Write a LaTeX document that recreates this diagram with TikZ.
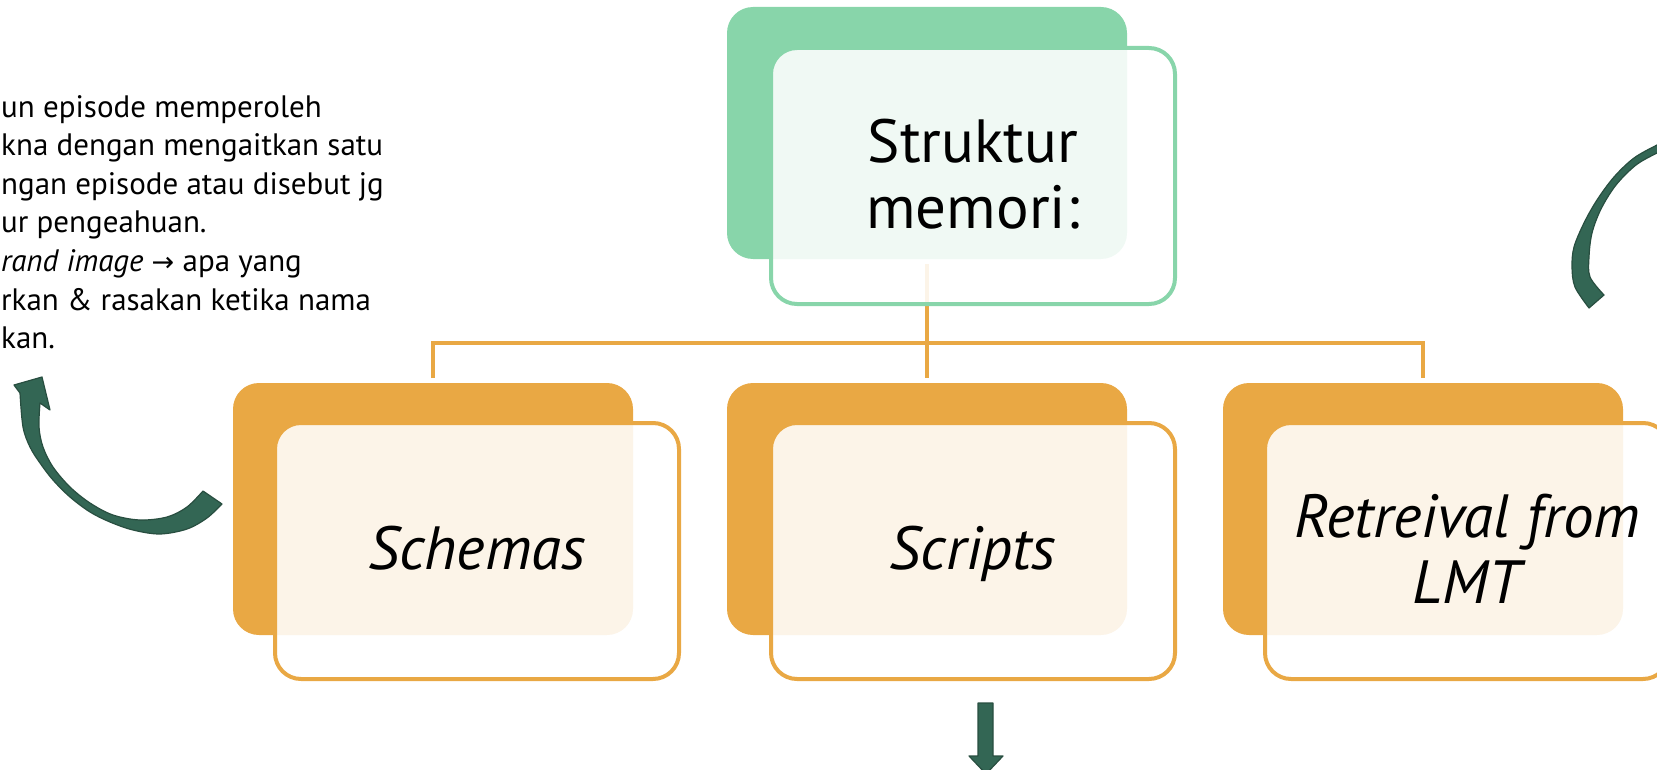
\documentclass[tikz,border=0pt]{standalone}
\usepackage{fontspec}
\setmainfont{PT Sans}
\newfontfamily\arrowfont{DejaVu Sans}
\definecolor{leaf}{HTML}{88D5AA}
\definecolor{amber}{HTML}{E9A844}
\definecolor{pine}{HTML}{336654}
\definecolor{pinedark}{HTML}{284E40}

\begin{document}
\begin{tikzpicture}[x=1pt,y=-1pt,
  backbox/.style={rectangle, rounded corners=26pt, minimum width=400pt,
    minimum height=252pt, inner sep=0pt, outer sep=0pt},
  frontbox/.style={rectangle, rounded corners=26pt, minimum width=404pt,
    minimum height=256pt, line width=4pt, fill=white, fill opacity=0.88,
    inner sep=0pt},
  conn/.style={draw=amber, line width=4pt},
  lbl/.style={font=\fontsize{61}{66}\selectfont, align=center, inner sep=0pt},
  itlbl/.style={font=\fontsize{61}{66}\selectfont\itshape, align=center, inner sep=0pt},
  swoosh/.style={fill=pine, draw=pinedark, line width=1.2pt, line join=round}
]
\useasboundingbox (0,0) rectangle (1657,770);
\clip (0,0) rectangle (1657,770);

% solid back plates
\node[backbox, fill=leaf]  (gback) at (927,133) {};
\node[backbox, fill=amber] (sback) at (433,509) {};
\node[backbox, fill=amber] (cback) at (927,509) {};
\node[backbox, fill=amber] (rback) at (1423,509) {};

% tree connectors
\coordinate (bar) at (0,343);
\draw[conn] ([yshift=-5pt]gback.south) -- ([yshift=5pt]cback.north);
\draw[conn] ([yshift=5pt]sback.north) -- (sback.north |- bar)
  -- (rback.north |- bar) -- ([yshift=5pt]rback.north);

% translucent front frames
\node[frontbox, draw=leaf]  (gfront) at (973,176) {};
\node[frontbox, draw=amber] (sfront) at (477,551) {};
\node[frontbox, draw=amber] (cfront) at (973,551) {};
\node[frontbox, draw=amber] (rfront) at (1467,551) {};

% labels
\node[lbl]   (gtext) at ([yshift=2pt]gfront.center) {Struktur\\memori:};
\node[itlbl, anchor=base] (stext) at ([yshift=-18.5pt]sfront.center) {Schemas};
\node[itlbl, anchor=base] (ctext) at ([yshift=-18.5pt]cfront.center) {Scripts};
\node[itlbl] (rtext) at ([yshift=2pt]rfront.center) {Retreival from\\LMT};

% side note
\node[font=\fontsize{31}{38.6}\selectfont, align=left, anchor=north west,
  inner sep=0pt] (note) at (1,95)
  {un episode memperoleh\\kna dengan mengaitkan satu\\ngan episode atau disebut jg\\ur pengeahuan.\\\textit{rand image} {\arrowfont\fontsize{27}{38.6}\selectfont →} apa yang\\rkan \& rasakan ketika nama\\kan.};

% curved arrow, lower left
\path[swoosh] plot[smooth, tension=0.55] coordinates {(222,504) (207,518)
    (187,529) (160,534) (133,530) (110,522) (90,512) (70,497) (53,480)
    (40,463) (30,447) (23,427) (20,393)}
  -- (14,385) -- (42,377) -- (50,410) -- (40,403)
  -- plot[smooth, tension=0.55] coordinates {(40,403) (39,427) (43,447)
    (53,467) (70,487) (90,503) (113,515) (140,520) (167,517) (187,507)
    (203,491)} -- cycle;

% curved arrow, upper right
\path[swoosh] plot[smooth, tension=0.55] coordinates {(1670,139) (1657,145)
    (1634,158) (1614,177) (1597,200) (1584,223) (1574,247) (1572,267)
    (1575,287) (1589,308)}
  -- (1604,295)
  -- plot[smooth, tension=0.55] coordinates {(1604,295) (1590,277) (1589,257)
    (1592,233) (1601,209) (1616,185) (1636,165) (1657,153) (1670,147)} -- cycle;

% down arrow
\path[swoosh] (978,703) -- (993,703) -- (993,756) -- (1003,756) -- (986,774)
  -- (969,756) -- (978,756) -- cycle;
\end{tikzpicture}
\end{document}
